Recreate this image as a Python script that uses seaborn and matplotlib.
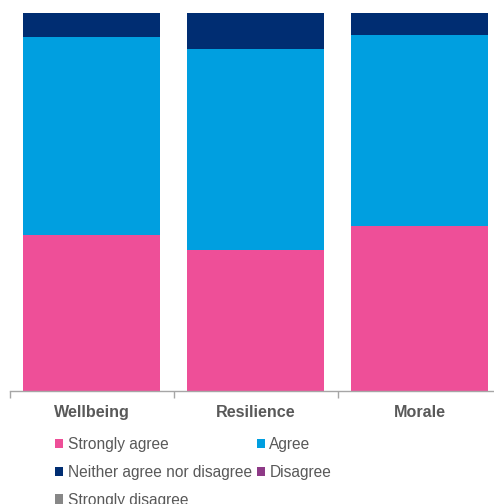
import matplotlib
matplotlib.use("Agg")
import matplotlib.pyplot as plt
from matplotlib.patches import Patch
from matplotlib.ticker import FixedLocator
import seaborn as sns
import pandas as pd
import numpy as np

# Survey results (% of respondents)
categories = ["Wellbeing", "Resilience", "Morale"]
strongly_agree = [41.3, 37.3, 43.8]
agree = [52.4, 53.3, 50.4]
neither = [6.3, 9.4, 5.8]
disagree = [0.0, 0.0, 0.0]
strongly_disagree = [0.0, 0.0, 0.0]

series_names = ["Strongly agree", "Agree", "Neither agree nor disagree",
                "Disagree", "Strongly disagree"]
series_colors = ["#EE4F98", "#009FE0", "#002D72", "#8E3A87", "#878787"]

sns.set_theme(style="white")
plt.rcParams["font.family"] = ["Liberation Sans", "DejaVu Sans"]

df = pd.DataFrame({
    "category": categories,
    series_names[0]: strongly_agree,
    series_names[1]: agree,
    series_names[2]: neither,
    series_names[3]: disagree,
    series_names[4]: strongly_disagree,
})
cum = df[series_names].cumsum(axis=1)

fig = plt.figure(figsize=(4.94, 5.04), dpi=100)
ax = fig.add_axes([9.7 / 494, (504 - 391.3) / 504, 492 / 494, 378.3 / 504])

# Stack by drawing cumulative totals from the top layer down
for name, color in reversed(list(zip(series_names, series_colors))):
    sns.barplot(x=df["category"], y=cum[name], color=color, width=0.835,
                edgecolor="none", linewidth=0, saturation=1, ax=ax)

ax.set_ylim(0, 100)
ax.set_xlim(-0.5, 2.5)
ax.set_xlabel("")
ax.set_ylabel("")
ax.set_yticks([])
for s in ["top", "right", "left"]:
    ax.spines[s].set_visible(False)
ax.spines["bottom"].set_color("#A6A6A6")
ax.spines["bottom"].set_linewidth(1.0)

ax.xaxis.set_minor_locator(FixedLocator([-0.5, 0.5, 1.5, 2.5]))
ax.tick_params(axis="x", which="major", length=0, pad=10,
               labelsize=11.6, labelcolor="#595959")
ax.tick_params(axis="x", which="minor", length=5, width=1, color="#A6A6A6",
               direction="out", bottom=True)
for lbl in ax.get_xticklabels():
    lbl.set_fontweight("bold")

handles = [Patch(facecolor=c, edgecolor="none", label=n)
           for n, c in zip(series_names, series_colors)]
order = [0, 2, 4, 1, 3]
leg = fig.legend([handles[i] for i in order], [series_names[i] for i in order],
                 ncol=2, loc="upper left", bbox_to_anchor=(55 / 494, 1 - 437 / 504),
                 frameon=False, fontsize=11.2, handlelength=0.52, handleheight=0.52,
                 handletextpad=0.3, columnspacing=0.3, labelspacing=0.82,
                 borderaxespad=0, borderpad=0)
for t in leg.get_texts():
    t.set_color("#595959")

fig.savefig("out.png", dpi=100)
